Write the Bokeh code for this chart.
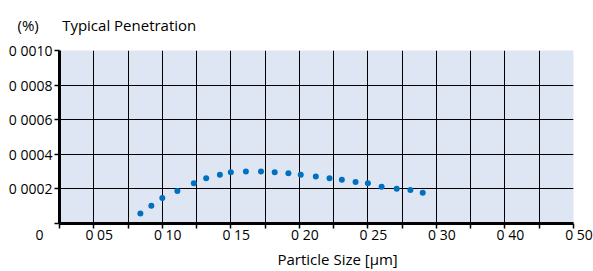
from bokeh.plotting import figure
from bokeh.models import FixedTicker, Range1d, Title
from bokeh.embed import file_html
from bokeh.resources import INLINE

# ---- data ----
particle_size = [0.084, 0.092, 0.100, 0.111, 0.123, 0.132, 0.142, 0.150, 0.161, 0.172, 0.182,
                 0.192, 0.201, 0.212, 0.222, 0.231, 0.241, 0.250, 0.260, 0.271, 0.281, 0.290]
penetration = [0.000058, 0.000103, 0.000147, 0.000188, 0.000232, 0.000261, 0.000282, 0.000296,
               0.000300, 0.000300, 0.000296, 0.000290, 0.000282, 0.000271, 0.000261, 0.000253,
               0.000240, 0.000232, 0.000213, 0.000201, 0.000194, 0.000178]

x_tick_values = [0.025, 0.05, 0.075, 0.1, 0.125, 0.15, 0.175, 0.2, 0.225, 0.25, 0.275, 0.3,
                 0.325, 0.35, 0.375, 0.4]
x_tick_labels = ["0", "0 05", "", "0 10", "", "0 15", "", "0 20", "", "0 25", "", "0 30",
                 "", "0 40", "", "0 50"]
y_tick_values = [0.0, 0.0002, 0.0004, 0.0006, 0.0008, 0.001]
y_tick_labels = ["", "0 0002", "0 0004", "0 0006", "0 0008", "0 0010"]

title_text = "Typical Penetration"
unit_text = "(%)"
x_title = "Particle Size [µm]"

FONT = "Open Sans"
FS = "14px"
TFS = "15px"
NB = "\u00a0"


def place_label(lbl, i):
    # the reference draws the axis-origin "0" to the left of the frame and the
    # other labels slightly right of their ticks
    if lbl == "":
        return ""
    if i == 0:
        return lbl + NB * 11
    return NB * 3 + lbl


p = figure(frame_width=514, frame_height=173,
           min_border_left=59, min_border_right=20, min_border_top=50, min_border_bottom=48,
           x_range=Range1d(0.025, 0.40), y_range=Range1d(0.0, 0.001),
           output_backend="svg", toolbar_location=None, tools="")

p.background_fill_color = "#dee6f3"
p.border_fill_color = "white"
p.outline_line_color = None

p.scatter(particle_size, penetration, size=6, color="#0070c0", line_color=None)

# axes
for ax in (p.xaxis[0], p.yaxis[0]):
    ax.axis_line_color = "black"
    ax.axis_line_width = 3
    ax.major_tick_line_color = "black"
    ax.major_tick_line_width = 1.5
    ax.major_tick_in = 0
    ax.major_tick_out = 5
    ax.minor_tick_line_color = None
    ax.major_label_text_font = FONT
    ax.major_label_text_font_size = FS
    ax.major_label_text_color = "black"

p.xaxis[0].ticker = FixedTicker(ticks=x_tick_values)
p.xaxis[0].major_label_overrides = {v: place_label(l, i)
                                    for i, (v, l) in enumerate(zip(x_tick_values, x_tick_labels))}
p.xaxis[0].major_label_standoff = -4
p.yaxis[0].ticker = FixedTicker(ticks=y_tick_values)
p.yaxis[0].major_label_overrides = dict(zip(y_tick_values, y_tick_labels))
p.yaxis[0].major_label_standoff = 2

p.xgrid[0].ticker = FixedTicker(ticks=x_tick_values)
p.ygrid[0].ticker = FixedTicker(ticks=y_tick_values)
for g in (p.xgrid[0], p.ygrid[0]):
    g.grid_line_color = "black"
    g.grid_line_width = 1
    g.grid_line_alpha = 1.0

# titles
p.add_layout(Title(text=unit_text + NB * 6 + title_text, align="left", offset=-42,
                   standoff=28, vertical_align="top",
                   text_font=FONT, text_font_size=TFS, text_font_style="normal",
                   text_color="black"), "above")
p.add_layout(Title(text=x_title, align="left", offset=218, standoff=0,
                   text_font=FONT, text_font_size=TFS, text_font_style="normal",
                   text_color="black"), "below")

open("out.html", "w").write(file_html(p, INLINE))
